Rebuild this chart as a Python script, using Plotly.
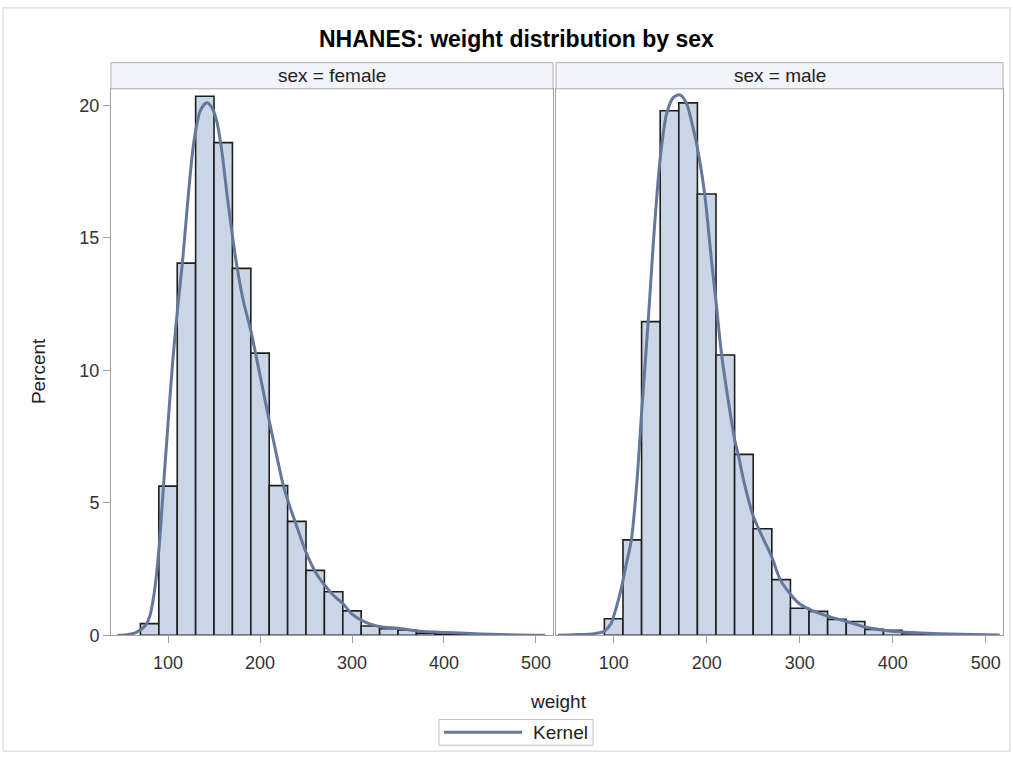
import plotly.graph_objects as go

# ---------------- data ----------------
bin_width = 20
female_mid = [80, 100, 120, 140, 160, 180, 200, 220, 240, 260, 280, 300, 320, 340, 360, 380, 400, 420, 440, 460]
female_pct = [0.44, 5.63, 14.05, 20.35, 18.6, 13.85, 10.65, 5.65, 4.3, 2.45, 1.64, 0.92, 0.35, 0.25, 0.2, 0.08, 0.06, 0.04, 0.03, 0.02]

male_mid = [100, 120, 140, 160, 180, 200, 220, 240, 260, 280, 300, 320, 340, 360, 380, 400, 420, 440, 460, 480, 500]
male_pct = [0.62, 3.6, 11.84, 19.8, 20.1, 16.66, 10.58, 6.83, 4.02, 2.1, 1.02, 0.9, 0.6, 0.52, 0.22, 0.19, 0.07, 0.05, 0.03, 0.02, 0.01]

female_kde_x = [45, 55, 65, 75, 80, 85, 90, 95, 100, 105, 110, 116, 122, 128, 135, 142, 148, 153, 158, 165,
                175, 182, 190, 196, 203, 210, 218, 225, 232, 238, 245, 251, 260, 270, 280, 290, 300, 311, 320,
                331, 350, 371, 390, 404, 440, 483, 510]
female_kde_y = [0.0, 0.02, 0.1, 0.35, 0.7, 1.6, 3.2, 5.6, 8.0, 10.3, 12.2, 14.2, 16.6, 18.6, 19.8, 20.1, 19.9, 19.4, 18.4, 16.4,
                13.9, 12.6, 11.5, 10.5, 9.3, 8.1, 6.8, 5.7, 4.9, 4.3, 3.6, 3.05, 2.4, 1.9, 1.5, 1.2, 0.8, 0.55, 0.42,
                0.32, 0.26, 0.16, 0.12, 0.1, 0.05, 0.01, 0.0]

male_kde_x = [40, 57, 79, 90, 97, 102, 108, 113, 119, 125, 130, 137, 143, 150, 157, 164, 171, 178, 185, 190,
              198, 205, 210, 216, 223, 230, 234, 240, 250, 260, 270, 279, 290, 300, 310, 330, 350, 370, 390, 410,
              450, 500, 515]
male_kde_y = [0.0, 0.02, 0.06, 0.15, 0.43, 0.95, 1.74, 2.6, 3.6, 5.8, 8.4, 11.8, 15.0, 18.0, 19.7, 20.3, 20.4, 20.1, 19.2, 18.4,
              16.6, 14.2, 12.6, 10.6, 8.9, 7.4, 6.8, 5.8, 4.5, 3.7, 2.95, 2.1, 1.55, 1.18, 0.99, 0.72, 0.52, 0.31, 0.19, 0.12,
              0.06, 0.02, 0.01]

panel_labels = ["sex = female", "sex = male"]
x_ticks = [100, 200, 300, 400, 500]
y_ticks = [0, 5, 10, 15, 20]
legend_label = "Kernel"

# ---------------- styling ----------------
W, H = 1013, 770
FONT = "Liberation Sans, Arial, sans-serif"
BAR_FILL = "#CAD5E5"
BAR_LINE = "#1E1E1E"
KDE_COLOR = "#64789C"
FRAME = "#A0A0A0"

def px_x(p):
    return p / W

def px_y(p):
    return 1 - p / H

left_dom = [px_x(111), px_x(553)]
right_dom = [px_x(556), px_x(1003)]
y_dom = [px_y(643.6), px_y(90)]

fig = go.Figure()

fig.add_trace(go.Bar(x=female_mid, y=female_pct, width=bin_width,
                     marker=dict(color=BAR_FILL, line=dict(color=BAR_LINE, width=1.6)),
                     showlegend=False, xaxis="x", yaxis="y"))
fig.add_trace(go.Bar(x=male_mid, y=male_pct, width=bin_width,
                     marker=dict(color=BAR_FILL, line=dict(color=BAR_LINE, width=1.6)),
                     showlegend=False, xaxis="x2", yaxis="y2"))
fig.add_trace(go.Scatter(x=female_kde_x, y=female_kde_y, mode="lines", name=legend_label,
                         line=dict(color=KDE_COLOR, width=3, shape="spline", smoothing=0.8),
                         showlegend=False, xaxis="x", yaxis="y"))
fig.add_trace(go.Scatter(x=male_kde_x, y=male_kde_y, mode="lines", name=legend_label,
                         line=dict(color=KDE_COLOR, width=3, shape="spline", smoothing=0.8),
                         showlegend=False, xaxis="x2", yaxis="y2"))

x_range = [38, 518.5]
y_range = [0, 20.63]

axis_common = dict(showline=True, linecolor=FRAME, linewidth=1, mirror=True,
                   showgrid=False, zeroline=False, ticks="outside", ticklen=7,
                   tickcolor=FRAME, tickfont=dict(family=FONT, size=18, color="#333333"))

fig.update_layout(
    width=W, height=H, autosize=False,
    margin=dict(l=0, r=0, t=0, b=0),
    paper_bgcolor="white", plot_bgcolor="white",
    font=dict(family=FONT, color="#333333"),
    barmode="overlay",
    showlegend=False,
    xaxis=dict(domain=left_dom, range=x_range, tickvals=x_ticks, anchor="y",
               ticklabelstandoff=4, **axis_common),
    xaxis2=dict(domain=right_dom, range=x_range, tickvals=x_ticks, anchor="y2",
                ticklabelstandoff=4, **axis_common),
    yaxis=dict(domain=y_dom, range=y_range, tickvals=y_ticks, anchor="x", **axis_common),
    yaxis2=dict(domain=y_dom, range=y_range, tickvals=y_ticks, anchor="x2", matches="y",
                showline=True, linecolor=FRAME, linewidth=1, mirror=True, showgrid=False,
                zeroline=False, ticks="", showticklabels=False),
)

shapes = [
    # outer graph border
    dict(type="rect", xref="paper", yref="paper", x0=px_x(3), x1=px_x(1010), y0=px_y(761), y1=px_y(8),
         line=dict(color="#D0D0D0", width=1), fillcolor="rgba(0,0,0,0)", layer="below"),
    # legend box and sample line
    dict(type="rect", xref="paper", yref="paper", x0=px_x(439), x1=px_x(593), y0=px_y(755), y1=px_y(729),
         line=dict(color="#C0C0C0", width=1), fillcolor="white"),
    dict(type="line", xref="paper", yref="paper", x0=px_x(444), x1=px_x(522), y0=px_y(742), y1=px_y(742),
         line=dict(color=KDE_COLOR, width=3)),
]
annotations = []
for dom, label in zip([left_dom, right_dom], panel_labels):
    shapes.append(dict(type="rect", xref="paper", yref="paper", x0=dom[0], x1=dom[1],
                       y0=px_y(90), y1=px_y(63.5), line=dict(color="#B0B0B0", width=1),
                       fillcolor="#F2F4FA"))
    annotations.append(dict(text=label, xref="paper", yref="paper", x=(dom[0] + dom[1]) / 2,
                            y=px_y(76.5), xanchor="center", yanchor="middle", showarrow=False,
                            font=dict(family=FONT, size=19, color="#222222")))

annotations.append(dict(text="<b>NHANES: weight distribution by sex</b>", xref="paper", yref="paper",
                        x=px_x(516), y=px_y(40), xanchor="center", yanchor="middle", showarrow=False,
                        font=dict(family=FONT, size=23, color="#000000")))
annotations.append(dict(text="weight", xref="paper", yref="paper", x=px_x(558), y=px_y(711),
                        xanchor="center", yanchor="middle", showarrow=False,
                        font=dict(family=FONT, size=19, color="#222222")))
annotations.append(dict(text="Percent", xref="paper", yref="paper", x=px_x(38), y=px_y(376),
                        xanchor="center", yanchor="middle", showarrow=False, textangle=-90,
                        font=dict(family=FONT, size=19, color="#222222")))
annotations.append(dict(text=legend_label, xref="paper", yref="paper", x=px_x(531), y=px_y(742),
                        xanchor="left", yanchor="middle", showarrow=False,
                        font=dict(family=FONT, size=19, color="#222222")))

fig.update_layout(shapes=shapes, annotations=annotations)

fig.write_html("out.html")
